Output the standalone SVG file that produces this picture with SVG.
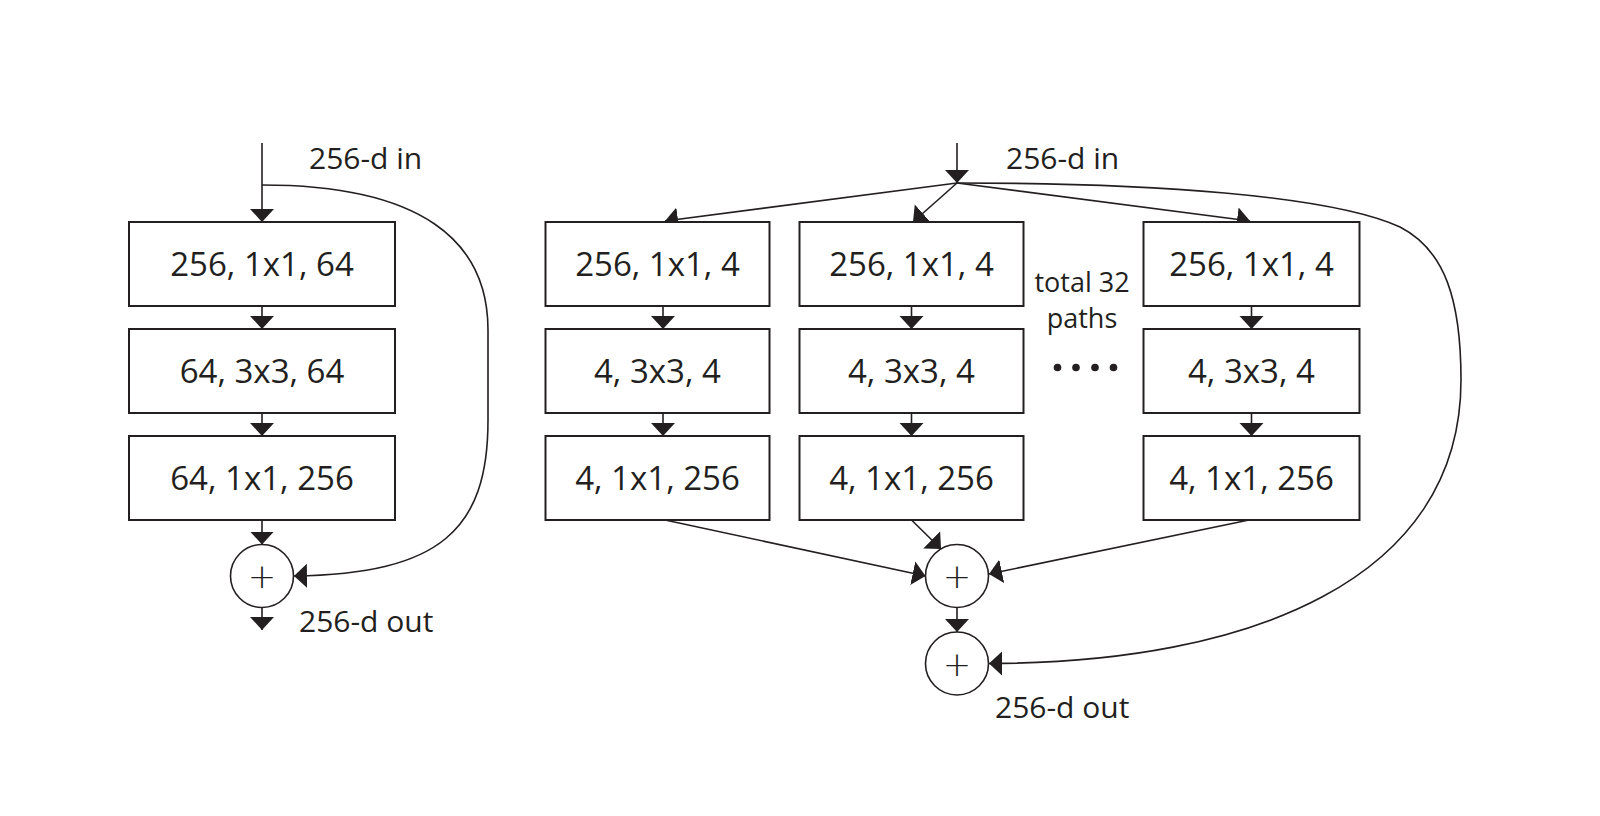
<svg xmlns="http://www.w3.org/2000/svg" width="1600" height="816" viewBox="0 0 1600 816">
<style>
.box{fill:#fff;stroke:#231f20;stroke-width:2}
.lbl{font-family:"Open Sans","Noto Sans",sans-serif;font-size:33px;fill:#231f20;text-anchor:middle}
.io{font-family:"Open Sans","Noto Sans",sans-serif;font-size:30px;fill:#231f20}
.note{font-family:"Open Sans","Noto Sans",sans-serif;font-size:27px;fill:#231f20;text-anchor:middle}
.sum{fill:#fff;stroke:#231f20;stroke-width:1.6}
.plus{font-family:"DejaVu Sans",sans-serif;font-weight:200;font-size:34px;fill:#231f20;text-anchor:middle}
.c{fill:none;stroke:#231f20;stroke-width:1.6;marker-end:url(#ah)}
</style>
<defs>
<marker id="ah" markerUnits="userSpaceOnUse" markerWidth="14" markerHeight="26" viewBox="0 0 14 26" refX="13" refY="13" orient="auto">
<path d="M0,1 L13,13 L0,25 z" fill="#231f20"/>
</marker>
</defs>
<rect width="1600" height="816" fill="#fff"/>
<g id="connectors">
<path class="c" d="M262,143 L262,222"/>
<path class="c" d="M262,306 L262,329"/>
<path class="c" d="M262,413 L262,436"/>
<path class="c" d="M262,520 L262,544.5"/>
<path class="c" d="M262,607.5 L262,630"/>
<path class="c" d="M262,185 C420,185 488,240 488,330 L488,420 C488,530 440,574 294,576"/>
<path class="c" d="M957,143 L957,183"/>
<path class="c" d="M957,183 L665,221"/>
<path class="c" d="M957,183 L913,222"/>
<path class="c" d="M957,183 L1250,221"/>
<path class="c" d="M663,306 L663,329"/>
<path class="c" d="M663,413 L663,436"/>
<path class="c" d="M911.5,306 L911.5,329"/>
<path class="c" d="M911.5,413 L911.5,436"/>
<path class="c" d="M1251.5,306 L1251.5,329"/>
<path class="c" d="M1251.5,413 L1251.5,436"/>
<path class="c" d="M665,520 L925.5,576"/>
<path class="c" d="M911.5,520 L941,549"/>
<path class="c" d="M1249,520 L989,574"/>
<path class="c" d="M957,607.5 L957,632"/>
<path class="c" d="M957,183 C1150,183 1330,195 1400,227 C1445,250 1461,300 1461,380 C1461,580 1250,663 989,663.5"/>
</g>
<g id="left-in"><text class="io" x="309" y="169">256-d in</text></g>
<g id="left-b1"><rect class="box" x="129" y="222" width="266" height="84"/><text class="lbl" x="262" y="276">256, 1x1, 64</text></g>
<g id="left-b2"><rect class="box" x="129" y="329" width="266" height="84"/><text class="lbl" x="262" y="383">64, 3x3, 64</text></g>
<g id="left-b3"><rect class="box" x="129" y="436" width="266" height="84"/><text class="lbl" x="262" y="490">64, 1x1, 256</text></g>
<g id="left-sum"><circle class="sum" cx="262" cy="576" r="31.5"/><text class="plus" x="262" y="588">+</text></g>
<g id="left-out"><text class="io" x="299" y="632">256-d out</text></g>
<g id="right-in"><text class="io" x="1006" y="169">256-d in</text></g>
<g id="a1"><rect class="box" x="545.5" y="222" width="224" height="84"/><text class="lbl" x="657.5" y="276">256, 1x1, 4</text></g>
<g id="a2"><rect class="box" x="545.5" y="329" width="224" height="84"/><text class="lbl" x="657.5" y="383">4, 3x3, 4</text></g>
<g id="a3"><rect class="box" x="545.5" y="436" width="224" height="84"/><text class="lbl" x="657.5" y="490">4, 1x1, 256</text></g>
<g id="b1"><rect class="box" x="799.5" y="222" width="224" height="84"/><text class="lbl" x="911.5" y="276">256, 1x1, 4</text></g>
<g id="b2"><rect class="box" x="799.5" y="329" width="224" height="84"/><text class="lbl" x="911.5" y="383">4, 3x3, 4</text></g>
<g id="b3"><rect class="box" x="799.5" y="436" width="224" height="84"/><text class="lbl" x="911.5" y="490">4, 1x1, 256</text></g>
<g id="c1"><rect class="box" x="1143.5" y="222" width="216" height="84"/><text class="lbl" x="1251.5" y="276">256, 1x1, 4</text></g>
<g id="c2"><rect class="box" x="1143.5" y="329" width="216" height="84"/><text class="lbl" x="1251.5" y="383">4, 3x3, 4</text></g>
<g id="c3"><rect class="box" x="1143.5" y="436" width="216" height="84"/><text class="lbl" x="1251.5" y="490">4, 1x1, 256</text></g>
<g id="paths-note"><text class="note" x="1082" y="291.5">total 32</text><text class="note" x="1082" y="328">paths</text></g>
<g id="ellipsis" fill="#231f20"><circle cx="1057.5" cy="367.5" r="3.8"/><circle cx="1076" cy="367.5" r="3.8"/><circle cx="1095" cy="367.5" r="3.8"/><circle cx="1113.5" cy="367.5" r="3.8"/></g>
<g id="right-sum1"><circle class="sum" cx="957" cy="576" r="31.5"/><text class="plus" x="957" y="588">+</text></g>
<g id="right-sum2"><circle class="sum" cx="957" cy="663.5" r="31.5"/><text class="plus" x="957" y="675.5">+</text></g>
<g id="right-out"><text class="io" x="995" y="718">256-d out</text></g>
</svg>
